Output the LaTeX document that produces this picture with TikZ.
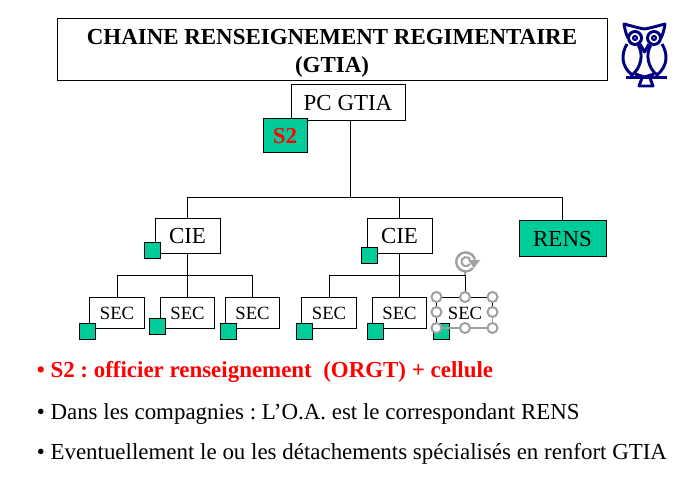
\documentclass[tikz,border=0pt]{standalone}
\usepackage{fontspec}
\setmainfont{Liberation Serif}
\usetikzlibrary{calc}
\definecolor{teal}{RGB}{0,204,153}
\definecolor{navyowl}{RGB}{0,0,128}
\definecolor{handle}{RGB}{160,160,160}
\frenchspacing
\tikzset{
  box/.style={draw=black,line width=.75pt,fill=white,inner sep=0pt,text=black},
  green/.style={draw=black,line width=.75pt,fill=teal,inner sep=0pt},
  wire/.style={draw=black,line width=.75pt},
  sec/.style={box,minimum width=41pt,minimum height=23.25pt,font=\fontsize{14}{15}\selectfont},
  cie/.style={box,minimum width=48.75pt,minimum height=26.5pt,font=\fontsize{17.2}{18}\selectfont},
  sq/.style={green,minimum width=12pt,minimum height=12pt},
  hnd/.style={circle,draw=handle,fill=white,line width=1.5pt,minimum size=7.5pt,inner sep=0pt},
  bul/.style={anchor=base west,inner sep=0pt,font=\fontsize{17.2}{18}\selectfont},
  owl/.style={draw=navyowl,line width=2.2pt,line join=round},
}
\begin{document}
\begin{tikzpicture}[x=.75pt,y=-.75pt]
\useasboundingbox (0,0) rectangle (685,484);
\fill[white] (0,0) rectangle (685,484);
% junctions
\coordinate (j0) at (350,197.5);
\coordinate (j1) at (187,275.5);
\coordinate (j2) at (399,275.5);
% title
\node[box,minimum width=412.5pt,minimum height=46.5pt] (title) at (332,50) {};
\node[align=center,inner sep=0pt,font=\bfseries\fontsize{17.2}{21}\selectfont] (titletext) at (332,52) {\rule{0pt}{14pt}CHAINE RENSEIGNEMENT REGIMENTAIRE\\(GTIA)};
% main boxes
\node[box,minimum width=85.5pt,minimum height=27pt,font=\fontsize{17.2}{18}\selectfont] (pc) at (348,103) {PC GTIA};
\node[cie] (cie1) at (187.5,236) {CIE};
\node[cie] (cie2) at (399.5,236) {CIE};
\node[green,minimum width=65.25pt,minimum height=27pt,font=\fontsize{17.2}{18}\selectfont] (rens) at (562.5,239) {RENS};
% sec boxes
\node[sec] (s1) at (117,313) {SEC};
\node[sec] (s2) at (187.5,313) {SEC};
\node[sec] (s3) at (252.5,313) {SEC};
\node[sec] (s4) at (329,313) {SEC};
\node[sec] (s5) at (399.5,313) {SEC};
% connectors
\draw[wire] (j0|-pc.south) -- (j0);
\draw[wire] (cie1.north|-j0) -- (cie1.north);
\draw[wire] (cie2.north|-j0) -- (cie2.north);
\draw[wire] (rens.north|-j0) -- (rens.north);
\draw[wire] (cie1.north|-j0) -- (rens.north|-j0);
\draw[wire] (cie1.south) -- (s2.north);
\draw[wire] (s1.north) -- (s1.north|-j1) -- (s3.north|-j1) -- (s3.north);
\draw[wire] (cie2.south) -- (s5.north);
\coordinate (s6top) at (465,297.5);
\draw[wire] (s4.north) -- (s4.north|-j2) -- (s6top|-j2) -- (s6top);
% S2
\node[green,minimum width=33pt,minimum height=25.5pt,font=\bfseries\fontsize{17.2}{18}\selectfont,text=red] (s2b) at (285,136) {S2};
% small squares
\node[sq] (q1) at (152,251) {};
\node[sq] (q2) at (369.5,256) {};
\node[sq] (q3) at (87,332) {};
\node[sq] (q4) at (157.5,327) {};
\node[sq] (q5) at (228,332) {};
\node[sq] (q6) at (304,332) {};
\node[sq] (q7) at (375.5,332) {};
% selected SEC
\node[anchor=center,inner sep=0pt,font=\fontsize{14}{15}\selectfont] (s6) at (465,313) {SEC};
\node[sq] (q8) at (441,332) {};
\draw[wire] (436.5,328) -- (436.5,297.5) -- (492.5,297.5) -- (492.5,312);
\draw[draw=handle,line width=1pt] (436.5,328) -- (492.5,328) -- (492.5,312);
\draw[draw=handle,line width=1.2pt] (465,270) -- (465,275);
\foreach \n/\x/\y in {a/436.5/297,b/465/297,c/492.5/297,d/436.5/312,e/492.5/312,f/436.5/328,g/465/328,h/492.5/328}
  \node[hnd] (h\n) at (\x,\y) {};
% rotation handle
\draw[draw=handle,line width=1.8pt] (473,268) arc[start angle=40,end angle=345,radius=9.5];
\draw[draw=handle,line width=1.5pt] (470,264) arc[start angle=30,end angle=330,radius=4.6];
\fill[handle] (468,260) -- (480,260) -- (474,268) -- cycle;
% bullets
\node[bul,text=red,font=\bfseries\fontsize{17.2}{18}\selectfont] (b1) at (36.5,377.5) {• S2 : officier renseignement\ \ (ORGT) + cellule};
\node[bul] (b2) at (36.5,419) {• Dans les compagnies : L’O.A. est le correspondant RENS};
\node[bul] (b3) at (36.5,459.5) {• Eventuellement le ou les détachements spécialisés en renfort GTIA};
% owl
\draw[owl] (628,38) .. controls (626,34) and (625,30) .. (624,24) .. controls (632,26) and (638,28) .. (644.5,29) .. controls (651,28) and (657,26) .. (665,24) .. controls (664,30) and (663,34) .. (661,38);
\draw[owl] (635,38) circle[radius=6.5];
\draw[owl] (654,38) circle[radius=6.5];
\draw[owl,line width=1.6pt] (635,38) circle[radius=2];
\draw[owl,line width=1.6pt] (654,38) circle[radius=2];
\draw[owl] (640,44) -- (644.5,52) -- (649,44);
\draw[owl] (627,44) .. controls (621,54) and (621,66) .. (632,75) .. controls (641,68) and (644,54) .. (638,45);
\draw[owl] (662,44) .. controls (668,54) and (668,66) .. (657,75) .. controls (648,68) and (645,54) .. (651,45);
\draw[owl] (635,74) -- (644.5,77);
\draw[owl] (654,74) -- (644.5,77);
\draw[owl] (626,77.5) -- (667,77.5);
\draw[owl] (642,78) -- (639,86) -- (653,86) -- (650,78);
\end{tikzpicture}
\end{document}
